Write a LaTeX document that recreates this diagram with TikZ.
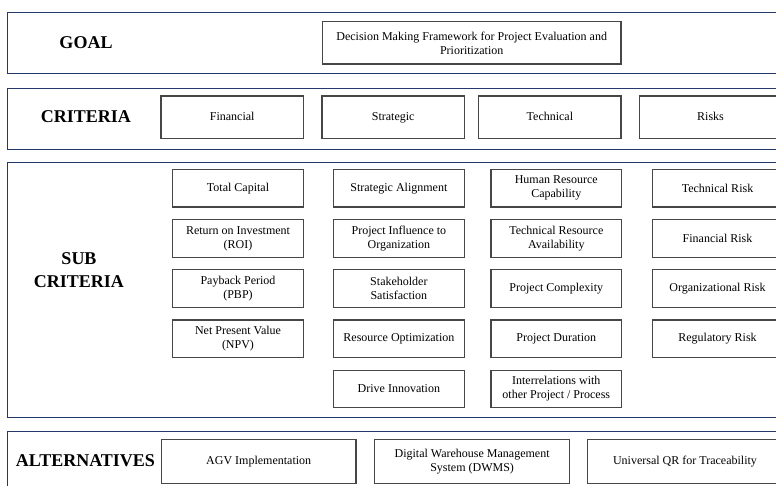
\documentclass[tikz,border=0pt]{standalone}
\usepackage{fontspec}
\setmainfont{Liberation Serif}
\usetikzlibrary{positioning}
\definecolor{bandnavy}{RGB}{36,58,108}
\definecolor{boxgray}{RGB}{70,70,70}

\begin{document}
\begin{tikzpicture}[
  x=1pt,y=-1pt,
  node distance=11.3pt,
  band/.style={draw=bandnavy,line width=1.1pt,anchor=north west,
               minimum width=800pt,inner sep=0pt},
  head/.style={font=\fontsize{18}{23.5}\selectfont\bfseries,align=center},
  box/.style={draw=boxgray,line width=1.2pt,align=center,inner sep=1pt,
              font=\fontsize{12}{14}\selectfont},
  critbox/.style={box,minimum width=142.3pt,minimum height=42.7pt,
                  text height=8.5pt,text depth=2.5pt},
  subbox/.style={box,minimum width=130.5pt,minimum height=37.7pt},
  altbox/.style={box,minimum width=194.5pt,minimum height=44pt}
]
  \useasboundingbox (0,0) rectangle (776,485);

  % bands
  \node[band,minimum height=61.6pt] (goalband) at (7.3,11.7) {};
  \node[band,minimum height=61.6pt] (critband) at (7.3,87.7) {};
  \node[band,minimum height=255pt] (subband) at (7.3,162.3) {};
  \node[band,minimum height=80pt] (altband) at (7.3,431) {};

  % level titles
  \node[head] (goalhead) at (86,42.7) {GOAL};
  \node[head] (crithead) at (86,117) {CRITERIA};
  \node[head] (subhead) at (79,270) {SUB\\CRITERIA};
  \node[head] (althead) at (85.5,461) {ALTERNATIVES};

  % goal
  \node[box,minimum width=298.7pt,minimum height=42.3pt] (goal) at (471.7,42.9)
    {Decision Making Framework for Project Evaluation and\\Prioritization};

  % criteria
  \node[critbox] (fin) at (232.2,117.4) {Financial};
  \node[critbox] (strat) at (393.2,117.4) {Strategic};
  \node[critbox] (tech) at (549.9,117.4) {Technical};
  \node[critbox] (risk) at (710.5,117.4) {Risks};

  % sub criteria, financial
  \node[subbox] (tc) at (238,188.2) {Total Capital};
  \node[subbox,below=of tc] (roi) {Return on Investment\\(ROI)};
  \node[subbox,below=of roi] (pbp) {Payback Period\\(PBP)};
  \node[subbox,below=of pbp] (npv) {Net Present Value\\(NPV)};

  % sub criteria, strategic
  \node[subbox] (align) at (398.9,188.2) {Strategic Alignment};
  \node[subbox,below=of align] (infl) {Project Influence to\\Organization};
  \node[subbox,below=of infl] (stake) {Stakeholder\\Satisfaction};
  \node[subbox,below=of stake] (resopt) {Resource Optimization};
  \node[subbox,below=of resopt] (innov) {Drive Innovation};

  % sub criteria, technical
  \node[subbox] (hrc) at (556.3,188.2) {Human Resource\\Capability};
  \node[subbox,below=of hrc] (tra) {Technical Resource\\Availability};
  \node[subbox,below=of tra] (cplx) {Project Complexity};
  \node[subbox,below=of cplx] (dur) {Project Duration};
  \node[subbox,below=of dur] (inter) {Interrelations with\\other Project / Process};

  % sub criteria, risks
  \node[subbox] (trisk) at (717.5,188.2) {Technical Risk};
  \node[subbox,below=of trisk] (frisk) {Financial Risk};
  \node[subbox,below=of frisk] (orisk) {Organizational Risk};
  \node[subbox,below=of orisk] (rrisk) {Regulatory Risk};

  % alternatives
  \node[altbox] (agv) at (258.7,461.3) {AGV Implementation};
  \node[altbox] (dwms) at (472.1,461.3) {Digital Warehouse Management\\System (DWMS)};
  \node[altbox] (qr) at (685,461.3) {Universal QR for Traceability};
\end{tikzpicture}
\end{document}
